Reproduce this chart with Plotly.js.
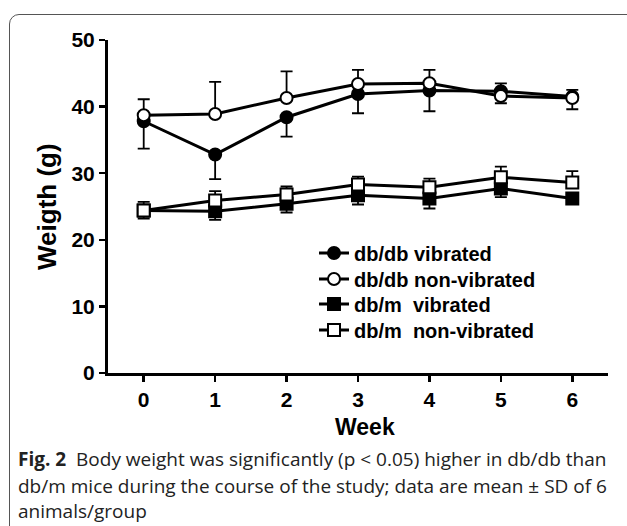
<!DOCTYPE html>
<html>
<head>
<meta charset="utf-8">
<script src="https://cdn.plot.ly/plotly-3.0.1.min.js"></script>
<style>
  html, body { margin: 0; padding: 0; background: #fff; }
  #wrap { position: relative; width: 627px; height: 526px; overflow: hidden; }
  #frame { position: absolute; left: 9px; top: 14px; width: 700px; height: 600px;
           border: 1px solid #555; border-radius: 10px; box-sizing: border-box; }
  #chart { position: absolute; left: 0; top: 0; width: 627px; height: 526px; }
</style>
</head>
<body>
<div id="wrap">
  <div id="frame"></div>
  <div id="chart"></div>
</div>
<script>
// ---- data ----
var weeks = [0, 1, 2, 3, 4, 5, 6];
var weekLabels = ['0', '1', '2', '3', '4', '5', '6'];
var yTicks = [0, 10, 20, 30, 40, 50];

var dbdbVib       = [37.8, 32.8, 38.4, 41.9, 42.4, 42.3, 41.5];
var dbdbVibPlus   = [0, 0, 0, 0, 0, 1.2, 1.0];
var dbdbVibMinus  = [4.1, 3.7, 2.9, 2.9, 3.1, 0, 0];

var dbdbNon       = [38.7, 38.9, 41.3, 43.4, 43.5, 41.6, 41.3];
var dbdbNonPlus   = [2.4, 4.8, 4.0, 2.1, 2.0, 0, 0];
var dbdbNonMinus  = [0, 0, 0, 0, 0, 1.1, 1.7];

var dbmVib        = [24.4, 24.3, 25.4, 26.7, 26.2, 27.7, 26.2];
var dbmVibPlus    = [0, 0, 0, 0, 0, 0, 0];
var dbmVibMinus   = [1.2, 1.3, 1.3, 1.4, 1.5, 1.3, 0];

var dbmNon        = [24.4, 25.9, 26.8, 28.3, 27.9, 29.4, 28.6];
var dbmNonPlus    = [1.3, 1.4, 1.2, 1.2, 1.3, 1.6, 1.7];
var dbmNonMinus   = [0, 0, 0, 0, 0, 0, 0];

var seriesNames = ['db/db vibrated', 'db/db non-vibrated', 'db/m\u00a0 vibrated', 'db/m\u00a0 non-vibrated'];

var xTitle = 'Week';
var yTitle = 'Weigth (g)';
var captionLines = [
  '<b>Fig. 2</b>  Body weight was significantly (p &lt; 0.05) higher in db/db than',
  'db/m mice during the course of the study; data are mean \u00b1 SD of 6',
  'animals/group'
];

// ---- build ----
var L = 108, T = 40, W = 500, H = 333;
function px(x) { return (x - L) / W; }
function py(y) { return (T + H - y) / H; }

var legendIds = ['legend', 'legend2', 'legend3', 'legend4'];
var legendRowY = [253, 279, 304, 330];

function trace(i, y, plus, minus, symbol, fill) {
  return {
    type: 'scatter', mode: 'lines+markers', name: seriesNames[i],
    legend: legendIds[i],
    x: weeks, y: y,
    line: { color: '#000', width: 3 },
    marker: { symbol: symbol, size: 12, color: fill, line: { color: '#000', width: 2 } },
    error_y: { type: 'data', symmetric: false, array: plus, arrayminus: minus,
               color: '#000', thickness: 1.8, width: 6 },
    cliponaxis: false
  };
}

var data = [
  trace(0, dbdbVib, dbdbVibPlus, dbdbVibMinus, 'circle', '#000'),
  trace(1, dbdbNon, dbdbNonPlus, dbdbNonMinus, 'circle', '#fff'),
  trace(2, dbmVib, dbmVibPlus, dbmVibMinus, 'square', '#000'),
  trace(3, dbmNon, dbmNonPlus, dbmNonMinus, 'square', '#fff')
];

var boldFamily = 'Liberation Sans, Arial, sans-serif';

var captionY = [459, 486, 511];
var annotations = captionLines.map(function (t, i) {
  return { text: t, xref: 'paper', yref: 'paper', x: px(16), y: py(captionY[i]),
           xanchor: 'left', yanchor: 'middle', showarrow: false, align: 'left',
           font: { family: 'Open Sans, sans-serif', size: 19, color: '#222' } };
});
annotations.push({ text: xTitle, xref: 'paper', yref: 'paper', x: px(365), y: py(427),
  xanchor: 'center', yanchor: 'middle', showarrow: false,
  font: { family: boldFamily, size: 23, color: '#000', weight: 'bold' } });
annotations.push({ text: yTitle, xref: 'paper', yref: 'paper', x: px(47), y: py(207),
  xanchor: 'center', yanchor: 'middle', showarrow: false, textangle: -90,
  font: { family: boldFamily, size: 26, color: '#000', weight: 'bold' } });

var tickFont = { family: boldFamily, size: 21, color: '#000', weight: 'bold' };

var layout = {
  width: 627, height: 526,
  margin: { l: L, r: 627 - L - W, t: T, b: 526 - T - H },
  paper_bgcolor: 'rgba(0,0,0,0)', plot_bgcolor: 'rgba(0,0,0,0)',
  showlegend: true,
  xaxis: {
    range: [-0.5, 6.5], tickvals: weeks, ticktext: weekLabels,
    showgrid: false, zeroline: false, showline: true, linecolor: '#000', linewidth: 3,
    ticks: 'outside', ticklen: 6, tickwidth: 2.5, tickcolor: '#000',
    tickfont: tickFont
  },
  yaxis: {
    range: [0, 50], tickvals: yTicks,
    showgrid: false, zeroline: false, showline: true, linecolor: '#000', linewidth: 3,
    ticks: 'outside', ticklen: 6, tickwidth: 2.5, tickcolor: '#000',
    tickfont: tickFont
  },
  annotations: annotations
};

legendIds.forEach(function (id, i) {
  layout[id] = {
    x: px(314), y: py(legendRowY[i]), xanchor: 'left', yanchor: 'middle',
    bgcolor: 'rgba(0,0,0,0)', borderwidth: 0,
    font: { family: boldFamily, size: 20, color: '#000', weight: 'bold' }
  };
});

Plotly.newPlot('chart', data, layout, { displayModeBar: false, staticPlot: true });
</script>
</body>
</html>
